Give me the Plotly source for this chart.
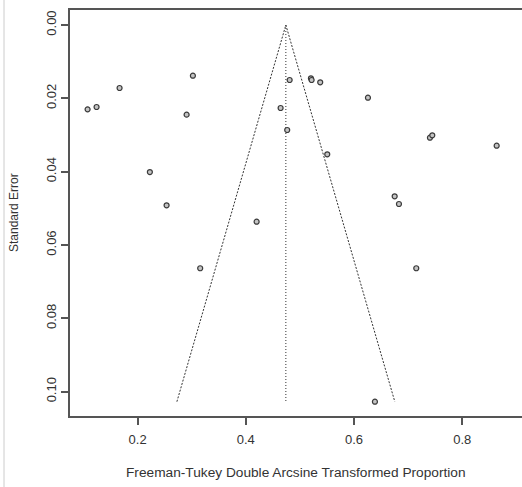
import plotly.graph_objects as go

# Freeman-Tukey transformed proportion (x) and standard error (y)
ft_prop = [0.1076, 0.1242, 0.1667, 0.3022, 0.2906, 0.2227, 0.2536, 0.4200,
           0.4810, 0.5203, 0.5216, 0.5375, 0.6257, 0.4643, 0.4765, 0.5505,
           0.7403, 0.7446, 0.8636, 0.6751, 0.6830, 0.3157, 0.7150, 0.6386]
std_err = [0.0230, 0.02236, 0.01718, 0.01383, 0.02446, 0.0401, 0.04917, 0.05365,
           0.0150, 0.01454, 0.0150, 0.01563, 0.01983, 0.02264, 0.02864, 0.03526,
           0.03074, 0.03008, 0.03292, 0.04672, 0.04882, 0.06635, 0.06635, 0.10274]
pooled = 0.474
z = 1.96

x_ticks = [0.2, 0.4, 0.6, 0.8]
y_ticks = [0.00, 0.02, 0.04, 0.06, 0.08, 0.10]

se_max = max(std_err)

fig = go.Figure()
# funnel diagonals
fig.add_trace(go.Scatter(
    x=[pooled - z * se_max, pooled, pooled + z * se_max],
    y=[se_max, 0, se_max], mode="lines",
    line=dict(color="#333333", width=1, dash="2px,1.5px"),
    hoverinfo="skip", showlegend=False))
# vertical pooled line
fig.add_trace(go.Scatter(
    x=[pooled, pooled], y=[0, se_max], mode="lines",
    line=dict(color="#333333", width=1, dash="1px,2px"),
    hoverinfo="skip", showlegend=False))
# study points
fig.add_trace(go.Scatter(
    x=ft_prop, y=std_err, mode="markers",
    marker=dict(symbol="circle", size=5, color="#c4c4c4",
                line=dict(color="#3a3a3a", width=1.2)),
    showlegend=False))

font = "Liberation Sans, Arial, sans-serif"
fig.update_layout(
    width=526, height=487,
    margin=dict(l=70, r=0, t=10, b=71),
    plot_bgcolor="white", paper_bgcolor="white",
    font=dict(family=font, size=13, color="#333333"),
    xaxis=dict(range=[0.0751, 0.9178], tickvals=x_ticks,
               ticktext=[f"{v:.1f}" for v in x_ticks],
               showgrid=False, zeroline=False, automargin=False,
               showline=True, linecolor="#555555", linewidth=2, mirror=True,
               ticks="outside", ticklen=7, tickwidth=1.5, tickcolor="#555555",
               ticklabelstandoff=3),
    yaxis=dict(range=[0.10664, -0.00409], tickvals=y_ticks,
               ticktext=[f"{v:.2f}" for v in y_ticks], tickangle=-90,
               showgrid=False, zeroline=False, automargin=False,
               showline=True, linecolor="#555555", linewidth=2, mirror=False,
               ticks="outside", ticklen=7, tickwidth=1.5, tickcolor="#555555"),
)
# axis titles (centred on the visible 70..522 span)
fig.add_annotation(text="Freeman-Tukey Double Arcsine Transformed Proportion",
                   xref="paper", yref="paper", x=(296 - 70) / 456, y=-57 / 406,
                   showarrow=False, yanchor="middle", xanchor="center",
                   font=dict(size=13.7, color="#333333"))
fig.add_annotation(text="Standard Error", textangle=-90,
                   xref="paper", yref="paper", x=-56 / 456, y=0.5,
                   showarrow=False, xanchor="center", yanchor="middle",
                   font=dict(size=12, color="#333333"))
# light screenshot border on the left
fig.add_shape(type="line", xref="paper", yref="paper",
              x0=-66 / 456, x1=-66 / 456, y0=-0.2, y1=1.03,
              line=dict(color="#cccccc", width=1))

fig.write_html("out.html", config={"displayModeBar": False},
               post_script="document.body.style.margin='0';document.body.style.overflow='hidden';")
